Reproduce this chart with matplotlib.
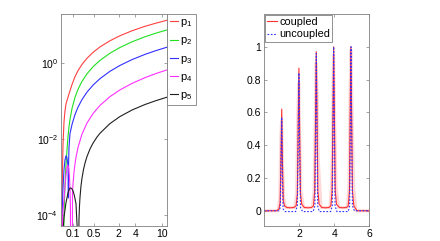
import numpy as np
import matplotlib
matplotlib.use("Agg")
import matplotlib.pyplot as plt
from matplotlib.ticker import FixedLocator, NullLocator

plt.rcParams['font.family'] = ['Liberation Sans', 'DejaVu Sans']
plt.rcParams['mathtext.default'] = 'regular'

LOW = 1e-6  # below the axis bottom (zero crossings); a t of LOW breaks the line

# ---- left panel: p_n(t), log y, x^(1/4) x-axis ----
p1_t = [0.0265, 0.0274, 0.0293, 0.0313, 0.0356, 0.0403, 0.0455, 0.0573, 0.0713,
        0.0878, 0.1176, 0.1544, 0.2162, 0.3174, 0.4819, 0.7461, 1.2957, 2.105,
        3.519, 5.748, 8.346, 11.635]
p1_v = [LOW, 1.83e-4, 0.00153, 0.00695, 0.028, 0.0547, 0.0834, 0.125, 0.185,
        0.27, 0.435, 0.625, 0.916, 1.33, 1.90, 2.65, 3.85, 5.22,
        7.05, 9.23, 11.2, 13.3]

p2_t = [0.0338, 0.0356, 0.0379, 0.0403, 0.0455, 0.0511, 0.0573, 0.0640, 0.0713,
        0.0878, 0.1176, 0.1544, 0.2162, 0.3174, 0.4819, 0.7461, 1.2957, 2.105,
        3.519, 5.748, 8.346, 11.635]
p2_v = [LOW, 1.0e-4, 2.5e-4, 6.2e-4, 0.00207, 0.0051, 0.0114, 0.0208, 0.0323,
        0.0632, 0.1245, 0.2018, 0.328, 0.519, 0.793, 1.171, 1.81, 2.56,
        3.61, 4.90, 6.11, 7.38]

p3_t = [0.0265, 0.0285, 0.0313, 0.0356, 0.0403, 0.0455, 0.0511, 0.0577, 0.0591,
        0.0600, 0.0604, 0.0617, 0.0640, 0.0713, 0.0878, 0.1176, 0.1544, 0.2162,
        0.3174, 0.4819, 0.7461, 1.2957, 2.105, 3.519, 5.748, 8.346, 11.635]
p3_v = [LOW, 1.35e-4, 5.1e-4, 0.00153, 0.0028, 0.0036, 0.0032, 0.0019, 8.4e-4,
        2.8e-4, 8.4e-4, 0.0025, 0.0058, 0.0138, 0.0239, 0.0437, 0.0684, 0.1088,
        0.1706, 0.2606, 0.3867, 0.604, 0.863, 1.227, 1.685, 2.12, 2.59]

p4_t = [0.0256, 0.0285, 0.0313, 0.0356, 0.0403, 0.0455, 0.0511, 0.0543, 0.0573,
        0.0620, 0.0670, 0.0713, 0.0750, 0.0770, LOW,
        0.0905, 0.0923, 0.0970, 0.1069, 0.1176, 0.1290, 0.1544, 0.2162, 0.3174,
        0.4819, 0.7461, 1.2957, 2.105, 3.519, 5.748, 8.346, 11.635]
p4_v = [LOW, 5.1e-5, 1.35e-4, 2.6e-4, 5.5e-4, 0.0011, 0.0018, 0.0020, 0.0020,
        0.0017, 0.0011, 5.0e-4, 1.4e-4, LOW, LOW,
        LOW, 3.86e-4, 6.43e-4, 0.00131, 0.00219, 0.00326, 0.00596, 0.0134, 0.0262,
        0.0465, 0.0763, 0.130, 0.196, 0.290, 0.411, 0.528, 0.653]

p5_t = [0.0310, 0.0327, 0.0356, 0.0403, 0.0455, 0.0511, 0.0573, 0.0640, 0.0713,
        0.0793, 0.0878, 0.0990, 0.1100, 0.1290, 0.1370, 0.1430, 0.1470, LOW,
        0.1613, 0.1684, 0.1758, 0.1833, 0.1992, 0.2162, 0.2436, 0.2734, 0.3174,
        0.3932, 0.4819, 0.6224, 0.7461, 1.2957, 2.105, 3.519, 5.748, 8.346, 11.635]
p5_v = [LOW, 5.1e-5, 8.6e-5, 1.35e-4, 2.1e-4, 2.8e-4, 3.8e-4, 4.5e-4, 5.1e-4,
        5.1e-4, 4.8e-4, 4.2e-4, 3.3e-4, 2.0e-4, 8.9e-5, 5.1e-5, LOW, LOW,
        LOW, 7.8e-5, 1.71e-4, 2.84e-4, 5.73e-4, 9.25e-4, 0.00156, 0.0023, 0.00344,
        0.00543, 0.00773, 0.0112, 0.0141, 0.0254, 0.0389, 0.0577, 0.0807, 0.102, 0.125]

left_labels = ["p$_1$", "p$_2$", "p$_3$", "p$_4$", "p$_5$"]
left_colors = ["#ff4040", "#20e020", "#3030ff", "#ff30ff", "#202020"]

# ---- right panel: coupled / uncoupled profiles ----
cpl_x = [0.0, 0.7, 0.85, 0.92, 0.97, 1.01, 1.05, 1.10, 1.17, 1.3, 1.5, 1.7,
         1.83, 1.90, 1.95, 1.99, 2.03, 2.08, 2.15, 2.3, 2.5, 2.7,
         2.82, 2.89, 2.94, 2.98, 3.02, 3.07, 3.14, 3.3, 3.5, 3.7,
         3.81, 3.88, 3.93, 3.97, 4.01, 4.06, 4.13, 4.3, 4.5, 4.7,
         4.80, 4.87, 4.91, 4.95, 4.99, 5.04, 5.12, 5.3, 5.6, 6.0]
cpl_y = [0.0, 0.0, 0.01, 0.05, 0.35, 0.62, 0.30, 0.06, 0.03, 0.02, 0.018, 0.02,
         0.03, 0.10, 0.55, 0.87, 0.50, 0.10, 0.04, 0.02, 0.018, 0.02,
         0.03, 0.12, 0.60, 0.97, 0.60, 0.12, 0.04, 0.02, 0.018, 0.02,
         0.03, 0.12, 0.60, 1.00, 0.60, 0.12, 0.04, 0.02, 0.018, 0.02,
         0.03, 0.12, 0.60, 1.00, 0.60, 0.12, 0.03, 0.0, 0.0, 0.0]

unc_x = [0.0, 0.85, 0.93, 0.97, 1.01, 1.05, 1.09, 1.2, 1.5, 1.8,
         1.90, 1.95, 1.99, 2.03, 2.08, 2.2, 2.5, 2.8,
         2.90, 2.94, 2.98, 3.02, 3.06, 3.15, 3.5, 3.8,
         3.89, 3.93, 3.97, 4.01, 4.05, 4.15, 4.5, 4.8,
         4.88, 4.92, 4.96, 5.00, 5.04, 5.15, 6.0]
unc_y = [0.0, 0.0, 0.02, 0.30, 0.57, 0.20, 0.01, -0.005, -0.005, -0.005,
         0.03, 0.45, 0.84, 0.40, 0.02, -0.005, -0.005, -0.005,
         0.03, 0.50, 0.96, 0.45, 0.03, -0.005, -0.005, -0.005,
         0.03, 0.50, 1.00, 0.50, 0.03, -0.005, -0.005, -0.005,
         0.03, 0.50, 1.00, 0.45, 0.03, 0.0, 0.0]

# faint, wider traces behind the main curves
faint_x = [0.0, 0.8, 0.9, 0.96, 1.0, 1.05, 1.12, 1.25, 1.75, 1.86, 1.93, 1.98,
           2.03, 2.1, 2.25, 2.75, 2.86, 2.93, 2.97, 3.03, 3.1, 3.25, 3.75,
           3.85, 3.9, 3.96, 4.02, 4.1, 4.25, 4.75, 4.84, 4.9, 4.95, 5.02,
           5.1, 5.25, 6.0]
faint_y = [0.0, 0.0, 0.08, 0.45, 0.55, 0.35, 0.08, 0.02, 0.02, 0.1, 0.6, 0.78,
           0.5, 0.12, 0.02, 0.02, 0.12, 0.65, 0.9, 0.7, 0.3, 0.02, 0.02,
           0.15, 0.4, 0.95, 0.6, 0.15, 0.02, 0.02, 0.15, 0.72, 0.98, 0.6,
           0.15, 0.0, 0.0]

fig = plt.figure(figsize=(4.4, 2.41), dpi=100)
ax1 = fig.add_axes([0.1386, 0.0622, 0.2402, 0.8797])
ax2 = fig.add_axes([0.6, 0.0622, 0.2393, 0.8797])

series = [(p1_t, p1_v), (p2_t, p2_v), (p3_t, p3_v), (p4_t, p4_v), (p5_t, p5_v)]
for (t, v), lab, c in zip(series, left_labels, left_colors):
    t = np.array(t, dtype=float)
    v = np.array(v, dtype=float)
    brk = t <= LOW
    v[brk] = np.nan
    t[brk] = np.nan
    ax1.plot(t, v, color=c, lw=0.8, label=lab)

ax1.set_xscale('function', functions=(lambda x: np.power(np.clip(x, 0, None), 0.25),
                                      lambda u: np.power(u, 4)))
ax1.set_yscale('log')
ax1.set_xlim(0.02385, 11.64)
ax1.set_ylim(5.1e-5, 19.5)
ax1.xaxis.set_major_locator(FixedLocator([0.1, 0.5, 2, 4, 10]))
ax1.set_xticklabels(["0.1", "0.5", "2", "4", "10"])
ax1.xaxis.set_minor_locator(NullLocator())
ax1.yaxis.set_major_locator(FixedLocator([1e-4, 1e-2, 1e0]))
ax1.yaxis.set_minor_locator(NullLocator())

leg1 = ax1.legend(loc='upper left', bbox_to_anchor=(1.0, 1.0), borderaxespad=0,
                  fontsize=8, handlelength=0.75, handletextpad=0.15,
                  borderpad=0.3, labelspacing=0.55, fancybox=False,
                  framealpha=1)
leg1.get_frame().set_edgecolor('#808080')
leg1.get_frame().set_linewidth(0.6)

ax2.plot(faint_x, faint_y, color='#ff9090', lw=2.2, alpha=0.35)
ax2.plot(cpl_x, cpl_y, color='#ff3030', lw=0.8, label='coupled')
ax2.plot(unc_x, unc_y, color='#3030ff', lw=0.8, ls=(0, (1.5, 1.5)), label='uncoupled')
ax2.set_xlim(0, 6)
ax2.set_ylim(-0.093, 1.2)
ax2.set_xticks([2, 4, 6])
ax2.set_yticks([0, 0.2, 0.4, 0.6, 0.8, 1])
ax2.set_yticklabels(["0", "0.2", "0.4", "0.6", "0.8", "1"])
leg2 = ax2.legend(loc='upper left', borderaxespad=0.1, fontsize=7.8,
                  handlelength=0.9, handletextpad=0.2, borderpad=0.2,
                  labelspacing=0.2, fancybox=False, framealpha=1)
leg2.get_frame().set_edgecolor('#808080')
leg2.get_frame().set_linewidth(0.6)

for ax in (ax1, ax2):
    ax.tick_params(direction='in', top=True, right=True, length=2.5,
                   width=0.5, labelsize=7.5, color='#808080', pad=2)
    for s in ax.spines.values():
        s.set_color('#808080')
        s.set_linewidth(0.6)

fig.savefig("out.png", dpi=100)
